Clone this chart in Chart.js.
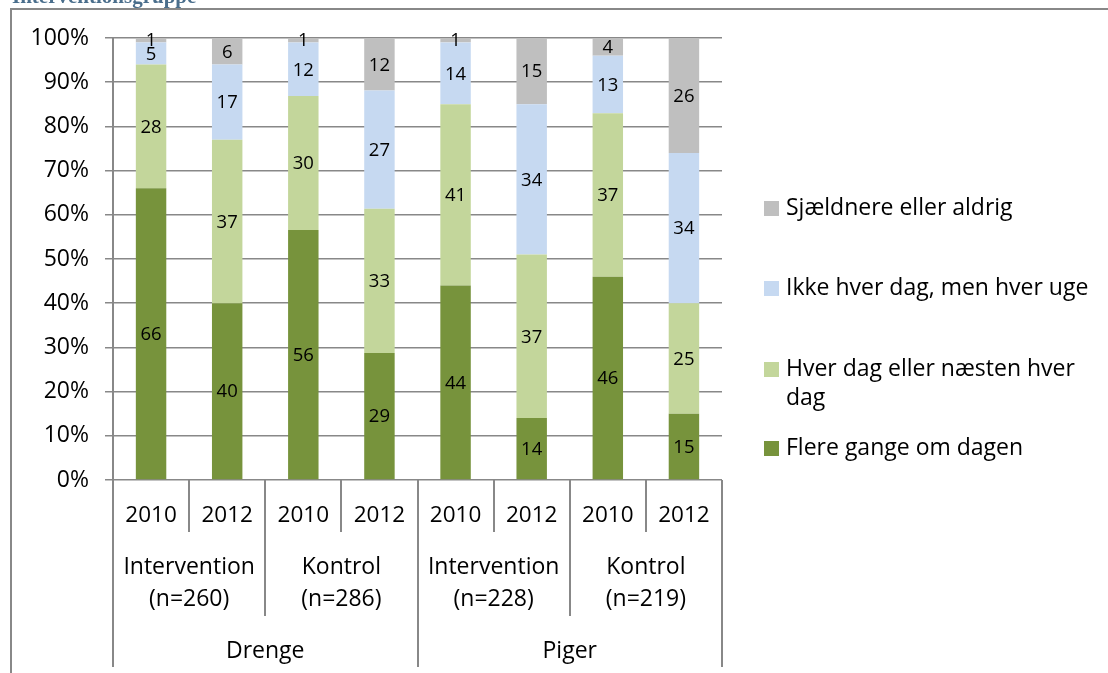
<!DOCTYPE html>
<html>
<head>
<meta charset="utf-8">
<script src="https://cdn.jsdelivr.net/npm/chart.js@4.4.1/dist/chart.umd.min.js"></script>
<style>
  html, body { margin: 0; padding: 0; background: #fff; }
</style>
</head>
<body>
<canvas id="chart" width="1108" height="673"></canvas>
<script>
// data (shown values, %)
const years = ['2010', '2012', '2010', '2012', '2010', '2012', '2010', '2012'];
const groups = [['Intervention', '(n=260)'], ['Kontrol', '(n=286)'], ['Intervention', '(n=228)'], ['Kontrol', '(n=219)']];
const genders = ['Drenge', 'Piger'];
const flere = [66, 40, 56, 29, 44, 14, 46, 15];
const hverDag = [28, 37, 30, 33, 41, 37, 37, 25];
const ikkeHverDag = [5, 17, 12, 27, 14, 34, 13, 34];
const sjaeldnere = [1, 6, 1, 12, 1, 15, 4, 26];
const seriesNames = ['Flere gange om dagen', 'Hver dag eller næsten hver dag', 'Ikke hver dag, men hver uge', 'Sjældnere eller aldrig'];
const seriesColors = ['#77933C', '#C3D69B', '#C6D9F1', '#BFBFBF'];
const title = 'Interventionsgruppe';

const FONT = "'Open Sans', sans-serif";
const LINE = '#888888';

const series = [flere, hverDag, ikkeHverDag, sjaeldnere];
const totals = years.map((y, i) => series.reduce((s, arr) => s + arr[i], 0));

const datasets = series.map((arr, k) => ({
  label: seriesNames[k],
  data: arr.map((v, i) => v / totals[i] * 100),
  shown: arr,
  backgroundColor: seriesColors[k],
  borderWidth: 0,
  categoryPercentage: 1,
  barPercentage: 0.4
}));

// frame + cut title
const framePlugin = {
  id: 'frame',
  beforeDraw(chart) {
    const ctx = chart.ctx;
    ctx.save();
    ctx.fillStyle = '#fff';
    ctx.fillRect(0, 0, chart.width, chart.height);
    ctx.strokeStyle = LINE;
    ctx.lineWidth = 2;
    ctx.beginPath();
    ctx.moveTo(11, 673);
    ctx.lineTo(11, 9);
    ctx.lineTo(1108, 9);
    ctx.stroke();
    ctx.fillStyle = '#4A6E8C';
    ctx.font = "bold 21px 'Liberation Serif', serif";
    ctx.textBaseline = 'alphabetic';
    ctx.fillText(title, 12, 3);
    ctx.restore();
  }
};

// numbers inside the segments
const labelPlugin = {
  id: 'segLabels',
  afterDatasetsDraw(chart) {
    const ctx = chart.ctx;
    ctx.save();
    ctx.font = '18.5px ' + FONT;
    ctx.fillStyle = '#000';
    ctx.textAlign = 'center';
    ctx.textBaseline = 'middle';
    chart.data.datasets.forEach((ds, k) => {
      chart.getDatasetMeta(k).data.forEach((bar, i) => {
        ctx.fillText(String(ds.shown[i]), bar.x, (bar.y + bar.base) / 2 + 1);
      });
    });
    ctx.restore();
  }
};

// multi level category axis
const axisPlugin = {
  id: 'multiAxis',
  afterDraw(chart) {
    const ctx = chart.ctx;
    const x = chart.scales.x;
    const bottom = chart.chartArea.bottom;
    const w = x.width / years.length;
    const left = x.left;
    ctx.save();
    ctx.strokeStyle = LINE;
    ctx.lineWidth = 2;
    for (let i = 0; i <= years.length; i++) {
      const px = Math.round(left + i * w);
      let end = bottom + 52;
      if (i % 4 === 0) end = bottom + 187;
      else if (i % 2 === 0) end = bottom + 136;
      ctx.beginPath();
      ctx.moveTo(px, bottom);
      ctx.lineTo(px, end);
      ctx.stroke();
    }
    ctx.fillStyle = '#000';
    ctx.textAlign = 'center';
    ctx.textBaseline = 'middle';
    ctx.font = '22.5px ' + FONT;
    years.forEach((y, i) => ctx.fillText(y, x.getPixelForValue(i), bottom + 36));
    ctx.font = '23px ' + FONT;
    groups.forEach((g, j) => {
      const cx = left + (j * 2 + 1) * w;
      ctx.fillText(g[0], cx, bottom + 87);
      ctx.fillText(g[1], cx, bottom + 119);
    });
    genders.forEach((g, j) => {
      const cx = left + (j * 4 + 2) * w;
      ctx.fillText(g, cx, bottom + 171);
    });
    ctx.restore();
  }
};

// legend on the right, reversed order
const legendPlugin = {
  id: 'sideLegend',
  afterDraw(chart) {
    const ctx = chart.ctx;
    const rows = [
      { k: 3, lines: ['Sjældnere eller aldrig'], y: 208 },
      { k: 2, lines: ['Ikke hver dag, men hver uge'], y: 288 },
      { k: 1, lines: ['Hver dag eller næsten hver', 'dag'], y: 369 },
      { k: 0, lines: ['Flere gange om dagen'], y: 448 }
    ];
    ctx.save();
    ctx.font = '23px ' + FONT;
    ctx.textBaseline = 'middle';
    rows.forEach(r => {
      ctx.fillStyle = seriesColors[r.k];
      ctx.fillRect(764, r.y - 7, 15, 15);
      ctx.fillStyle = '#000';
      r.lines.forEach((t, n) => ctx.fillText(t, 786, r.y + n * 29));
    });
    ctx.restore();
  }
};

new Chart(document.getElementById('chart'), {
  type: 'bar',
  data: { labels: years, datasets: datasets },
  options: {
    responsive: false,
    animation: false,
    layout: { padding: { left: 0, top: 38, right: 386, bottom: 193 } },
    plugins: { legend: { display: false }, tooltip: { enabled: false } },
    scales: {
      x: { stacked: true, display: false },
      y: {
        stacked: true,
        min: 0,
        max: 100,
        afterFit(s) { s.width = 113; },
        ticks: {
          stepSize: 10,
          callback: v => v + '%',
          color: '#000',
          font: { family: FONT, size: 23 },
          padding: 16
        },
        grid: { color: LINE, lineWidth: 1.5, tickLength: 8 },
        border: { color: LINE, width: 2 }
      }
    }
  },
  plugins: [framePlugin, labelPlugin, axisPlugin, legendPlugin]
});
</script>
</body>
</html>
